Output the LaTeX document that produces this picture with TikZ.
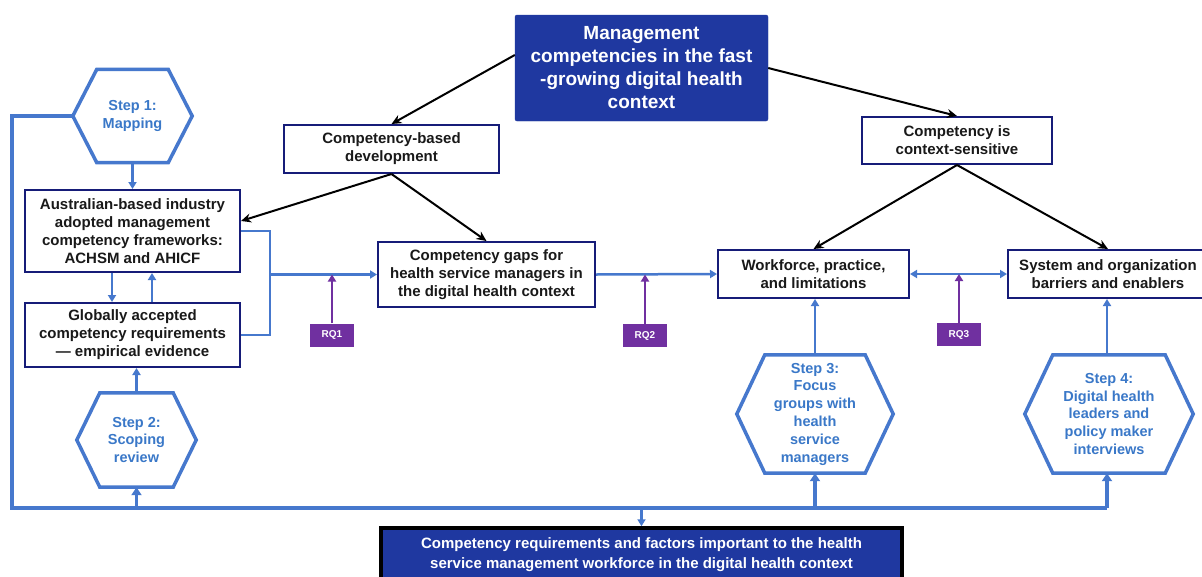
\documentclass[tikz,border=0pt]{standalone}
\usepackage{fontspec}
\setmainfont{Liberation Sans}
\usetikzlibrary{arrows.meta,calc}
\definecolor{navy}{RGB}{22,28,120}
\definecolor{dblue}{RGB}{31,56,160}
\definecolor{lblue}{RGB}{70,120,205}
\definecolor{htext}{RGB}{58,120,200}
\definecolor{purp}{RGB}{112,48,160}
\tikzset{
  box/.style={draw=navy, line width=2pt, fill=white, align=center, inner sep=0pt,
    text=black!90, font=\bfseries\fontsize{15}{18}\selectfont},
  topbox/.style={fill=dblue, draw=dblue, rounded corners=2pt, text=white, align=center,
    inner sep=0pt, font=\bfseries\fontsize{19}{23}\selectfont},
  botbox/.style={fill=dblue, draw=black, line width=3.5pt, text=white, align=center,
    inner sep=0pt, font=\bfseries\fontsize{15}{20}\selectfont},
  hexn/.style={align=center, text=htext, inner sep=0pt, font=\bfseries\fontsize{14.5}{17.8}\selectfont},
  hexline/.style={draw=lblue, line width=3.5pt, line join=miter},
  rq/.style={fill=purp, text=white, inner sep=0pt, minimum width=44pt, minimum height=23pt,
    font=\bfseries\fontsize{10}{11}\selectfont},
  blk/.style={draw=black, line width=2pt, -{Stealth[length=10pt,width=9pt]}},
  bl/.style={draw=lblue, line width=2.5pt},
  blthick/.style={draw=lblue, line width=3.2pt},
  blarrow/.style={bl, -{Triangle[length=7pt,width=8pt]}},
  blarrowthick/.style={blthick, -{Triangle[length=8pt,width=10pt]}},
  pur/.style={draw=purp, line width=2.5pt, -{Triangle[length=7pt,width=8pt]}}
}
\begin{document}
\begin{tikzpicture}[x=1pt,y=-1pt]
\useasboundingbox (0,0) rectangle (1202,576);
\clip (0,0) rectangle (1202,576);
\fill[white] (0,0) rectangle (1202,576);

% nodes
\node[topbox, minimum width=253pt, minimum height=106pt] (top) at (641.5,68)
  {Management\\competencies in the fast\\-growing digital health\\context};
\node[box, minimum width=215pt, minimum height=48pt] (cbd) at (391.5,149)
  {Competency-based\\development};
\node[box, minimum width=190pt, minimum height=47pt] (cis) at (957,140.5)
  {Competency is\\context-sensitive};
\node[box, minimum width=215pt, minimum height=82pt] (aus) at (132.5,231)
  {Australian-based industry\\adopted management\\competency frameworks:\\ACHSM and AHICF};
\node[box, minimum width=215pt, minimum height=64pt] (glob) at (132.5,335)
  {Globally accepted\\competency requirements\\--- empirical evidence};
\node[box, minimum width=217pt, minimum height=65pt] (gaps) at (486.5,274.5)
  {Competency gaps for\\health service managers in\\the digital health context};
\node[box, minimum width=191pt, minimum height=48pt] (work) at (813.5,274)
  {Workforce, practice,\\and limitations};
\node[box, minimum width=200pt, minimum height=48pt] (sys) at (1108,274)
  {System and organization\\barriers and enablers};
\node[botbox, minimum width=521pt, minimum height=54pt] (bot) at (641.5,555)
  {Competency requirements and factors important to the health\\service management workforce in the digital health context};

% hexagon step nodes
\node[hexn, minimum width=119pt, minimum height=93pt] (s1) at (132.5,116) {Step 1:\\Mapping};
\node[hexn, minimum width=119pt, minimum height=94pt] (s2) at (136.5,440) {Step 2:\\Scoping\\review};
\node[hexn, minimum width=156pt, minimum height=118pt] (s3) at (815,414)
  {Step 3:\\Focus\\groups with\\health\\service\\managers};
\node[hexn, minimum width=168pt, minimum height=118pt] (s4) at (1109,414)
  {Step 4:\\Digital health\\leaders and\\policy maker\\interviews};
\foreach \n/\i in {s1/24,s2/23,s3/28,s4/28}{
  \draw[hexline] (\n.west) -- ([xshift=\i pt]\n.north west) -- ([xshift=-\i pt]\n.north east)
    -- (\n.east) -- ([xshift=-\i pt]\n.south east) -- ([xshift=\i pt]\n.south west) -- cycle;
}

% RQ boxes
\node[rq] (rq1) at (332,335) {RQ1};
\node[rq] (rq2) at (645,335.5) {RQ2};
\node[rq] (rq3) at (959,334.5) {RQ3};

% black arrows
\draw[blk] ([yshift=13pt]top.west) -- (cbd.north);
\draw[blk] (top.east) -- (cis.north);
\draw[blk] (cbd.south) -- ([yshift=10pt]aus.east);
\draw[blk] (cbd.south) -- (gaps.north);
\draw[blk] (cis.south) -- (work.north);
\draw[blk] (cis.south) -- (sys.north);

% blue connectors
\coordinate (lt) at (12,116);
\coordinate (lb) at (12,508);
\coordinate (rb) at (1107,508);
\draw[blthick, line join=miter] (s1.west) -- (lt) -- (lb) -- (rb);
\draw[blarrowthick] (s2.south |- lb) -- (s2.south);
\draw[blarrowthick] (s3.south |- lb) -- (s3.south);
\draw[blarrowthick] (rb) -- (rb |- s4.south);
\draw[blarrow] (bot.north |- lb) -- (bot.north);

\draw[blarrow] (s1.south) -- (aus.north);
\draw[blarrow] (s2.north) -- (s2.north |- glob.south);
\draw[blarrow] ([xshift=-20.5pt]aus.south) -- ([xshift=-20.5pt]glob.north);
\draw[blarrow] ([xshift=19.5pt]glob.north) -- ([xshift=19.5pt]aus.south);

\coordinate (bx) at (270,274.5);
\draw[bl, line join=miter] (aus.east) -- (aus.east -| bx) -- (glob.east -| bx) -- (glob.east);
\draw[blarrow] (bx) -- (gaps.west);
\draw[blarrow] (gaps.east) -- (work.west);
\draw[bl, {Triangle[length=7pt,width=8pt]}-{Triangle[length=7pt,width=8pt]}] (work.east) -- (sys.west);
\draw[blarrow] (s3.north) -- (s3.north |- work.south);
\draw[blarrow] (rb |- s4.north) -- (rb |- sys.south);

% purple arrows
\draw[pur] (rq1.north) -- (rq1.north |- gaps.west);
\draw[pur] (rq2.north) -- (rq2.north |- gaps.east);
\draw[pur] (rq3.north) -- (rq3.north |- work.east);
\end{tikzpicture}
\end{document}
